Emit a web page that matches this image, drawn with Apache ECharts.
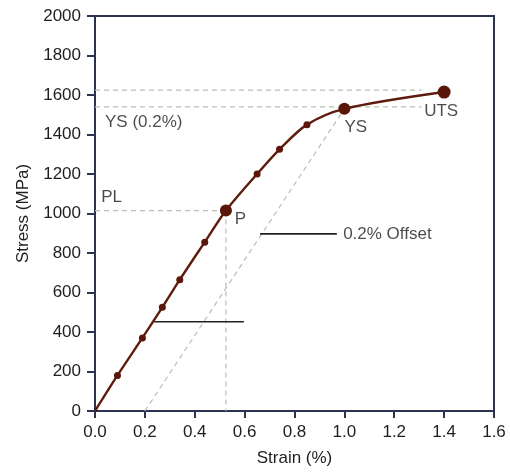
<!DOCTYPE html>
<html>
<head>
<meta charset="utf-8">
<script src="https://cdn.jsdelivr.net/npm/echarts@6/dist/echarts.min.js"></script>
<style>
html,body{margin:0;padding:0;background:#fff;}
#chart{width:510px;height:472px;}
</style>
</head>
<body>
<div id="chart"></div>
<script>
// Stress-strain curve data
var strain = [0, 0.09, 0.19, 0.27, 0.34, 0.44, 0.525, 0.65, 0.74, 0.85, 1.0, 1.4];
var stress = [0, 180, 370, 525, 665, 855, 1015, 1200, 1325, 1450, 1530, 1615];
var markerKind = ['none','s','s','s','s','s','P','s','s','s','YS','UTS'];

// Dashed guide lines: [[x1,y1],[x2,y2]]
var guideUTS = [[0, 1625], [1.31, 1625]];
var guideYS = [[0, 1540], [1.31, 1540]];
var guidePL = [[0, 1015], [0.525, 1015]];
var guidePvert = [[0.525, 1015], [0.525, 0]];
var offsetLine = [[0.2, 0], [1.0, 1530]];

// Solid leader lines
var leaderOffset = [[0.662, 897], [0.97, 897]];
var leaderElastic = [[0.237, 452], [0.597, 452]];

// Text labels: [x, y, text]
var labelsData = [
  [0.04, 1462, 'YS (0.2%)'],
  [0.025, 1083, 'PL'],
  [0.56, 969, 'P'],
  [1.0, 1434, 'YS'],
  [1.32, 1518, 'UTS'],
  [0.995, 897, '0.2% Offset']
];

var sizeMap = {none: 0, s: 7, P: 12, YS: 12, UTS: 13};
var curveData = strain.map(function (x, i) {
  return {value: [x, stress[i]], symbolSize: sizeMap[markerKind[i]]};
});

var dashColor = '#b3c2b3';
var axisColor = '#2b3350';
var textColor = '#1e1e1e';
var font = 'Liberation Sans, Arial, sans-serif';

function dashed(data) {
  return {type: 'line', data: data, symbol: 'none', silent: true,
    lineStyle: {color: dashColor, width: 1.2, type: [5, 4]}, z: 1};
}
function solid(data) {
  return {type: 'line', data: data, symbol: 'none', silent: true,
    lineStyle: {color: '#222', width: 1.6}, z: 1};
}

var chart = echarts.init(document.getElementById('chart'), null, {renderer: 'canvas'});
chart.setOption({
  animation: false,
  backgroundColor: '#fff',
  grid: {left: 95, right: 16, top: 16, bottom: 59, show: true,
    borderColor: axisColor, borderWidth: 2, backgroundColor: 'transparent'},
  xAxis: {
    type: 'value', min: 0, max: 1.6, interval: 0.2,
    name: 'Strain (%)', nameLocation: 'middle', nameGap: 39,
    nameTextStyle: {fontSize: 17, color: textColor, fontFamily: font},
    axisLine: {show: true, onZero: false, lineStyle: {color: axisColor, width: 2}},
    axisTick: {show: true, length: 7, inside: false, lineStyle: {color: axisColor, width: 2}},
    axisLabel: {fontSize: 17, color: textColor, fontFamily: font, margin: 13,
      formatter: function (v) { return v.toFixed(1); }},
    splitLine: {show: false}
  },
  yAxis: {
    type: 'value', min: 0, max: 2000, interval: 200,
    name: 'Stress (MPa)', nameLocation: 'middle', nameGap: 60,
    nameTextStyle: {fontSize: 17, color: textColor, fontFamily: font},
    axisLine: {show: true, onZero: false, lineStyle: {color: axisColor, width: 2}},
    axisTick: {show: true, length: 8, inside: false, lineStyle: {color: axisColor, width: 2}},
    axisLabel: {fontSize: 17, color: textColor, fontFamily: font, margin: 14,
      formatter: function (v) { return String(v); }},
    splitLine: {show: false}
  },
  series: [
    dashed(guideUTS), dashed(guideYS), dashed(guidePL), dashed(guidePvert), dashed(offsetLine),
    solid(leaderOffset), solid(leaderElastic),
    {
      type: 'line', data: curveData, smooth: 0.3, symbol: 'circle', showSymbol: true,
      lineStyle: {color: '#5e1c0c', width: 2.4},
      itemStyle: {color: '#5a1608'}, z: 5
    },
    {
      type: 'scatter', data: labelsData.map(function (d) { return {value: [d[0], d[1]], name: d[2]}; }),
      symbolSize: 0, silent: true, z: 6,
      label: {show: true, position: [0, 0], align: 'left', verticalAlign: 'middle',
        formatter: function (p) { return p.name; },
        fontSize: 17, color: textColor, fontFamily: font}
    }
  ]
});
</script>
</body>
</html>
